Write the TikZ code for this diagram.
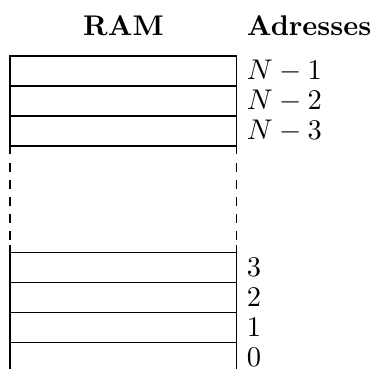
\documentclass[tikz,border=0pt]{standalone}
\usepackage{amsmath,amssymb}
\usepackage{tikz}
\usetikzlibrary{positioning}
\tikzset{
  ramcell/.style={rectangle,draw=black,line width=0.4pt,
    minimum width=2.8cm,minimum height=0.37cm,inner sep=0pt,outer sep=0pt},
  ramaddr/.style={font=\normalsize,inner sep=3.33pt},
  ramhead/.style={font=\bfseries,inner sep=3.33pt},
  ramgap/.style={dashed,line width=0.4pt},
}

\begin{document}
\begin{tikzpicture}[node distance=0cm]
  \useasboundingbox (-0.123,0.045) rectangle (4.492,4.598);

  % low addresses
  \node[ramcell] (c0) at (1.4,0.185) {};
  \node[ramcell, above=of c0] (c1) {};
  \node[ramcell, above=of c1] (c2) {};
  \node[ramcell, above=of c2] (c3) {};

  % high addresses
  \node[ramcell, above=1.317cm of c3] (n3) {};
  \node[ramcell, above=of n3] (n2) {};
  \node[ramcell, above=of n2] (n1) {};

  \node[ramaddr, right=of c0] (a0) {$0$};
  \node[ramaddr, right=of c1] (a1) {$1$};
  \node[ramaddr, right=of c2] (a2) {$2$};
  \node[ramaddr, right=of c3] (a3) {$3$};
  \node[ramaddr, right=of n3] (an3) {$N-3$};
  \node[ramaddr, right=of n2] (an2) {$N-2$};
  \node[ramaddr, right=of n1] (an1) {$N-1$};

  \node[ramhead, above=0.13cm of n1] (ram) {RAM};
  \node[ramhead, anchor=base west] (adr) at (ram.base -| n1.east) {Adresses};

  % omitted cells
  \coordinate[above=0.095cm of c3.north west] (sl);
  \coordinate[above=0.095cm of c3.north east] (sr);
  \draw (c3.north west) -- (sl);
  \draw (c3.north east) -- (sr);
  \draw[ramgap] (n3.south west) -- (sl);
  \draw[ramgap] (n3.south east) -- (sr);
\end{tikzpicture}
\end{document}
